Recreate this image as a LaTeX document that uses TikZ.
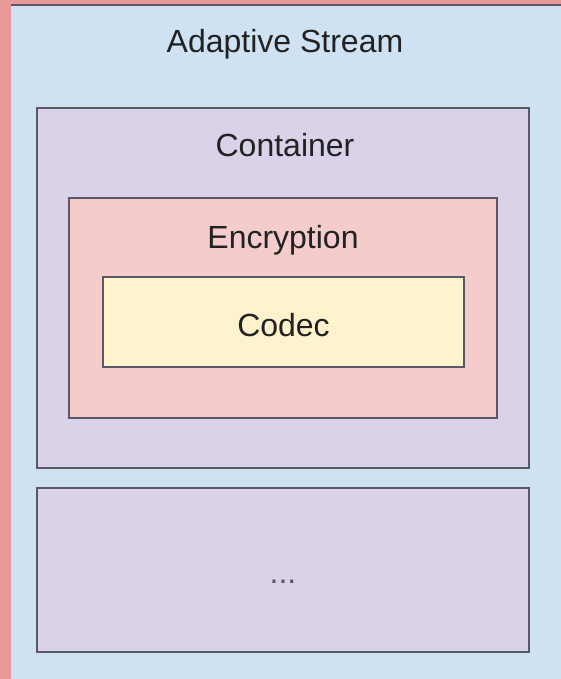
\documentclass[tikz,border=0pt]{standalone}
\usepackage{fontspec}
\setmainfont{Liberation Sans}
\definecolor{framepink}{HTML}{EA9999}
\definecolor{streamblue}{HTML}{CFE2F3}
\definecolor{containerlilac}{HTML}{D9D2E9}
\definecolor{encryptpink}{HTML}{F4CCCC}
\definecolor{codecyellow}{HTML}{FFF2CC}
\definecolor{edgegray}{HTML}{595966}
\definecolor{labelink}{HTML}{222222}
\tikzset{
  layerbox/.style={rectangle, draw=edgegray, line width=1.6pt, inner sep=0pt},
  layerlabel/.style={anchor=base, inner sep=0pt, text=labelink,
    font=\fontsize{32}{38}\selectfont},
}
\begin{document}
\begin{tikzpicture}[x=1pt,y=-1pt]
  % page frame and stream background
  \fill[framepink] (0,0) rectangle (561,679);
  \useasboundingbox (0,0) rectangle (561,679);
  \node[rectangle, fill=streamblue, inner sep=0pt, anchor=north west,
        minimum width=560pt, minimum height=680pt] (stream) at (11,5) {};
  \draw[edgegray, line width=1.6pt] (stream.north west) -- (stream.north east);
  \node[layerlabel] (streamlabel) at (285,53) {Adaptive Stream};

  % nested layers
  \node[layerbox, fill=containerlilac, minimum width=492pt, minimum height=360pt]
        (container) at (283,288) {};
  \node[layerlabel] (containerlabel) at (285,157) {Container};

  \node[layerbox, fill=encryptpink, minimum width=428pt, minimum height=220pt]
        (encryption) at (283,308) {};
  \node[layerlabel] (encryptionlabel) at (283,248) {Encryption};

  \node[layerbox, fill=codecyellow, minimum width=361pt, minimum height=90pt]
        (codec) at (283.5,322) {};
  \node[layerlabel] (codeclabel) at (283.5,336) {Codec};

  % further segments
  \node[layerbox, fill=containerlilac, minimum width=492pt, minimum height=164pt]
        (more) at (283,570) {};
  \node[layerlabel, text=edgegray] (morelabel) at (283,583) {...};
\end{tikzpicture}
\end{document}
